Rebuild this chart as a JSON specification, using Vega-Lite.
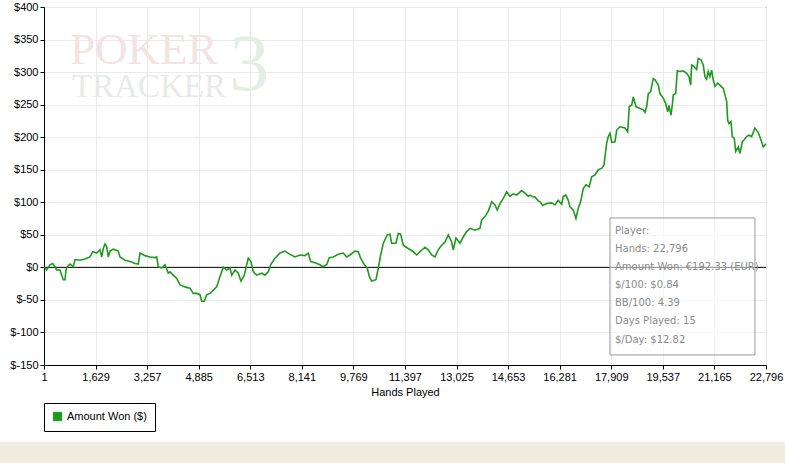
{
  "$schema": "https://vega.github.io/schema/vega-lite/v6.json",
  "autosize": "none",
  "width": 722,
  "height": 358,
  "padding": {"left": 44, "top": 7, "right": 19, "bottom": 98},
  "background": "#ffffff",
  "config": {
    "view": {"stroke": "#000000", "strokeWidth": 1},
    "font": "Liberation Sans",
    "axis": {
      "domainColor": "#000000",
      "tickColor": "#000000",
      "gridColor": "#ebebeb",
      "labelFont": "Liberation Sans",
      "labelFontSize": 11,
      "labelColor": "#000000",
      "labelOverlap": false,
      "labelFlush": false,
      "labelBound": false,
      "tickSize": 4,
      "titleFont": "Liberation Sans",
      "titleFontSize": 11,
      "titleFontWeight": "normal",
      "titleColor": "#000000"
    }
  },
  "datasets": {
    "won": [
      {"hands": 1, "won": 0},
      {"hands": 33, "won": -1},
      {"hands": 86, "won": -4},
      {"hands": 190, "won": 4},
      {"hands": 276, "won": 6},
      {"hands": 348, "won": 1},
      {"hands": 402, "won": -4},
      {"hands": 506, "won": -4},
      {"hands": 560, "won": -12},
      {"hands": 610, "won": -19},
      {"hands": 664, "won": -19},
      {"hands": 696, "won": -4},
      {"hands": 737, "won": 1},
      {"hands": 822, "won": 5},
      {"hands": 926, "won": 1},
      {"hands": 980, "won": 12},
      {"hands": 1138, "won": 11},
      {"hands": 1295, "won": 13},
      {"hands": 1453, "won": 16},
      {"hands": 1538, "won": 24},
      {"hands": 1665, "won": 22},
      {"hands": 1769, "won": 27},
      {"hands": 1823, "won": 16},
      {"hands": 1873, "won": 29},
      {"hands": 1927, "won": 36},
      {"hands": 1980, "won": 32},
      {"hands": 2031, "won": 16},
      {"hands": 2085, "won": 25},
      {"hands": 2189, "won": 28},
      {"hands": 2347, "won": 25},
      {"hands": 2400, "won": 16},
      {"hands": 2558, "won": 11},
      {"hands": 2716, "won": 9},
      {"hands": 2874, "won": 6},
      {"hands": 2978, "won": 5},
      {"hands": 3032, "won": 22},
      {"hands": 3190, "won": 18},
      {"hands": 3347, "won": 16},
      {"hands": 3505, "won": 15},
      {"hands": 3559, "won": 16},
      {"hands": 3609, "won": 1},
      {"hands": 3717, "won": -1},
      {"hands": 3821, "won": 4},
      {"hands": 3925, "won": -9},
      {"hands": 3979, "won": -7},
      {"hands": 4083, "won": -12},
      {"hands": 4190, "won": -17},
      {"hands": 4295, "won": -27},
      {"hands": 4452, "won": -30},
      {"hands": 4610, "won": -32},
      {"hands": 4714, "won": -40},
      {"hands": 4822, "won": -40},
      {"hands": 4926, "won": -42},
      {"hands": 4980, "won": -52},
      {"hands": 5062, "won": -52},
      {"hands": 5137, "won": -42},
      {"hands": 5242, "won": -40},
      {"hands": 5346, "won": -35},
      {"hands": 5453, "won": -30},
      {"hands": 5557, "won": -14},
      {"hands": 5661, "won": 0},
      {"hands": 5769, "won": -4},
      {"hands": 5873, "won": -1},
      {"hands": 5927, "won": -12},
      {"hands": 6031, "won": -4},
      {"hands": 6135, "won": -9},
      {"hands": 6220, "won": -21},
      {"hands": 6325, "won": -12},
      {"hands": 6400, "won": 4},
      {"hands": 6451, "won": 14},
      {"hands": 6536, "won": 9},
      {"hands": 6609, "won": -7},
      {"hands": 6716, "won": -12},
      {"hands": 6874, "won": -9},
      {"hands": 6978, "won": -12},
      {"hands": 7082, "won": -7},
      {"hands": 7168, "won": 5},
      {"hands": 7294, "won": 14},
      {"hands": 7452, "won": 22},
      {"hands": 7609, "won": 25},
      {"hands": 7767, "won": 20},
      {"hands": 7925, "won": 16},
      {"hands": 8083, "won": 19},
      {"hands": 8241, "won": 18},
      {"hands": 8345, "won": 22},
      {"hands": 8421, "won": 9},
      {"hands": 8556, "won": 7},
      {"hands": 8714, "won": 4},
      {"hands": 8800, "won": 1},
      {"hands": 8926, "won": 4},
      {"hands": 9008, "won": 15},
      {"hands": 9134, "won": 16},
      {"hands": 9292, "won": 20},
      {"hands": 9450, "won": 22},
      {"hands": 9557, "won": 16},
      {"hands": 9661, "won": 19},
      {"hands": 9819, "won": 25},
      {"hands": 9923, "won": 24},
      {"hands": 9999, "won": 14},
      {"hands": 10103, "won": 5},
      {"hands": 10208, "won": -1},
      {"hands": 10271, "won": -14},
      {"hands": 10346, "won": -21},
      {"hands": 10482, "won": -19},
      {"hands": 10555, "won": -1},
      {"hands": 10631, "won": 19},
      {"hands": 10713, "won": 37},
      {"hands": 10839, "won": 50},
      {"hands": 10924, "won": 51},
      {"hands": 10978, "won": 37},
      {"hands": 11114, "won": 37},
      {"hands": 11186, "won": 52},
      {"hands": 11262, "won": 51},
      {"hands": 11344, "won": 34},
      {"hands": 11502, "won": 29},
      {"hands": 11660, "won": 24},
      {"hands": 11767, "won": 19},
      {"hands": 11871, "won": 24},
      {"hands": 12029, "won": 31},
      {"hands": 12133, "won": 27},
      {"hands": 12240, "won": 19},
      {"hands": 12345, "won": 16},
      {"hands": 12449, "won": 27},
      {"hands": 12556, "won": 34},
      {"hands": 12661, "won": 39},
      {"hands": 12765, "won": 50},
      {"hands": 12872, "won": 39},
      {"hands": 12923, "won": 27},
      {"hands": 13007, "won": 45},
      {"hands": 13134, "won": 37},
      {"hands": 13238, "won": 47},
      {"hands": 13345, "won": 55},
      {"hands": 13450, "won": 60},
      {"hands": 13607, "won": 57},
      {"hands": 13765, "won": 60},
      {"hands": 13819, "won": 73},
      {"hands": 13923, "won": 78},
      {"hands": 14027, "won": 86},
      {"hands": 14134, "won": 101},
      {"hands": 14239, "won": 96},
      {"hands": 14311, "won": 88},
      {"hands": 14397, "won": 98},
      {"hands": 14501, "won": 106},
      {"hands": 14608, "won": 116},
      {"hands": 14713, "won": 109},
      {"hands": 14817, "won": 113},
      {"hands": 14924, "won": 111},
      {"hands": 15082, "won": 118},
      {"hands": 15187, "won": 114},
      {"hands": 15291, "won": 109},
      {"hands": 15345, "won": 111},
      {"hands": 15449, "won": 108},
      {"hands": 15502, "won": 108},
      {"hands": 15607, "won": 102},
      {"hands": 15660, "won": 101},
      {"hands": 15745, "won": 95},
      {"hands": 15871, "won": 98},
      {"hands": 16029, "won": 99},
      {"hands": 16133, "won": 96},
      {"hands": 16237, "won": 103},
      {"hands": 16344, "won": 97},
      {"hands": 16395, "won": 109},
      {"hands": 16480, "won": 111},
      {"hands": 16553, "won": 103},
      {"hands": 16606, "won": 93},
      {"hands": 16711, "won": 88},
      {"hands": 16796, "won": 75},
      {"hands": 16869, "won": 91},
      {"hands": 16944, "won": 101},
      {"hands": 17027, "won": 121},
      {"hands": 17112, "won": 127},
      {"hands": 17216, "won": 124},
      {"hands": 17292, "won": 139},
      {"hands": 17397, "won": 142},
      {"hands": 17501, "won": 150},
      {"hands": 17608, "won": 152},
      {"hands": 17681, "won": 157},
      {"hands": 17712, "won": 170},
      {"hands": 17766, "won": 191},
      {"hands": 17817, "won": 201},
      {"hands": 17871, "won": 206},
      {"hands": 17924, "won": 192},
      {"hands": 18028, "won": 193},
      {"hands": 18082, "won": 211},
      {"hands": 18186, "won": 216},
      {"hands": 18344, "won": 214},
      {"hands": 18429, "won": 208},
      {"hands": 18479, "won": 247},
      {"hands": 18555, "won": 249},
      {"hands": 18606, "won": 262},
      {"hands": 18691, "won": 247},
      {"hands": 18817, "won": 244},
      {"hands": 18921, "won": 242},
      {"hands": 18975, "won": 238},
      {"hands": 19029, "won": 247},
      {"hands": 19080, "won": 267},
      {"hands": 19156, "won": 270},
      {"hands": 19187, "won": 278},
      {"hands": 19238, "won": 290},
      {"hands": 19292, "won": 288},
      {"hands": 19396, "won": 280},
      {"hands": 19448, "won": 267},
      {"hands": 19552, "won": 260},
      {"hands": 19628, "won": 252},
      {"hands": 19692, "won": 239},
      {"hands": 19733, "won": 249},
      {"hands": 19796, "won": 234},
      {"hands": 19837, "won": 249},
      {"hands": 19869, "won": 265},
      {"hands": 19945, "won": 267},
      {"hands": 19995, "won": 302},
      {"hands": 20080, "won": 301},
      {"hands": 20184, "won": 302},
      {"hands": 20291, "won": 298},
      {"hands": 20364, "won": 293},
      {"hands": 20418, "won": 280},
      {"hands": 20449, "won": 311},
      {"hands": 20531, "won": 308},
      {"hands": 20607, "won": 304},
      {"hands": 20657, "won": 321},
      {"hands": 20743, "won": 319},
      {"hands": 20815, "won": 311},
      {"hands": 20869, "won": 293},
      {"hands": 20922, "won": 289},
      {"hands": 20973, "won": 301},
      {"hands": 21026, "won": 293},
      {"hands": 21080, "won": 303},
      {"hands": 21130, "won": 288},
      {"hands": 21184, "won": 278},
      {"hands": 21269, "won": 283},
      {"hands": 21342, "won": 280},
      {"hands": 21447, "won": 275},
      {"hands": 21500, "won": 265},
      {"hands": 21554, "won": 255},
      {"hands": 21586, "won": 226},
      {"hands": 21627, "won": 221},
      {"hands": 21690, "won": 224},
      {"hands": 21731, "won": 201},
      {"hands": 21795, "won": 198},
      {"hands": 21839, "won": 178},
      {"hands": 21921, "won": 185},
      {"hands": 21975, "won": 175},
      {"hands": 22048, "won": 193},
      {"hands": 22108, "won": 196},
      {"hands": 22184, "won": 201},
      {"hands": 22257, "won": 203},
      {"hands": 22342, "won": 201},
      {"hands": 22446, "won": 214},
      {"hands": 22551, "won": 207},
      {"hands": 22636, "won": 196},
      {"hands": 22709, "won": 185},
      {"hands": 22796, "won": 190}
    ],
    "info": [
      {"line": "Player:", "h": 18028, "v": 56},
      {"line": "Hands: 22,796", "h": 18028, "v": 28.3},
      {"line": "Amount Won: €192.33 (EUR)", "h": 18028, "v": 0.6},
      {"line": "$/100: $0.84", "h": 18028, "v": -27},
      {"line": "BB/100: 4.39", "h": 18028, "v": -54.7},
      {"line": "Days Played: 15", "h": 18028, "v": -82.3},
      {"line": "$/Day: $12.82", "h": 18028, "v": -111.5}
    ],
    "box": [{"h1": 17870, "h2": 22447, "v1": 75.9, "v2": -134.6}],
    "strip": [{"h1": -1400, "h2": 23420, "v1": -268, "v2": -302}],
    "zero": [{"v": 0}],
    "mark": [
      {"t": "POKER", "h": 822, "v": 312},
      {"t": "TRACKER", "h": 885, "v": 261.5},
      {"t": "3", "h": 5850, "v": 272}
    ]
  },
  "layer": [
    {
      "data": {"name": "strip"},
      "mark": {"type": "rect", "color": "#f0ecdf", "clip": false},
      "encoding": {
        "x": {
          "field": "h1",
          "type": "quantitative",
          "scale": {"domain": [1, 22796], "nice": false, "zero": false},
          "axis": {
            "title": "Hands Played",
            "values": [1, 1629, 3257, 4885, 6513, 8141, 9769, 11397, 13025, 14653, 16281, 17909, 19537, 21165, 22796],
            "tickCount": 30,
            "format": ",d",
            "labelPadding": 2,
            "titlePadding": 4,
            "labelOverlap": false,
            "labelFlush": false
          }
        },
        "x2": {"field": "h2"},
        "y": {
          "field": "v1",
          "type": "quantitative",
          "scale": {"domain": [-150, 400], "nice": false, "zero": false},
          "axis": {
            "title": null,
            "values": [-150, -100, -50, 0, 50, 100, 150, 200, 250, 300, 350, 400],
            "tickCount": 30,
            "labelExpr": "'$' + datum.value",
            "labelPadding": 2,
            "labelOverlap": false,
            "labelFlush": false
          }
        },
        "y2": {"field": "v2"}
      }
    },
    {
      "data": {"name": "mark"},
      "transform": [{"filter": "datum.t === '3'"}],
      "mark": {"type": "text", "font": "Liberation Serif", "align": "left", "baseline": "alphabetic", "fontSize": 80, "color": "#e6ede6"},
      "encoding": {
        "x": {"field": "h", "type": "quantitative"},
        "y": {"field": "v", "type": "quantitative"},
        "text": {"field": "t"}
      }
    },
    {
      "data": {"name": "mark"},
      "transform": [{"filter": "datum.t === 'POKER'"}],
      "mark": {"type": "text", "font": "Liberation Serif", "align": "left", "baseline": "alphabetic", "fontSize": 45, "color": "#f3e3e3"},
      "encoding": {
        "x": {"field": "h", "type": "quantitative"},
        "y": {"field": "v", "type": "quantitative"},
        "text": {"field": "t"}
      }
    },
    {
      "data": {"name": "mark"},
      "transform": [{"filter": "datum.t === 'TRACKER'"}],
      "mark": {"type": "text", "font": "Liberation Serif", "align": "left", "baseline": "alphabetic", "fontSize": 33, "color": "#e7ebe7"},
      "encoding": {
        "x": {"field": "h", "type": "quantitative"},
        "y": {"field": "v", "type": "quantitative"},
        "text": {"field": "t"}
      }
    },
    {
      "data": {"name": "zero"},
      "mark": {"type": "rule", "color": "#000000", "strokeWidth": 1},
      "encoding": {"y": {"field": "v", "type": "quantitative"}}
    },
    {
      "data": {"name": "won"},
      "mark": {"type": "line", "strokeWidth": 1.6, "interpolate": "linear"},
      "encoding": {
        "x": {"field": "hands", "type": "quantitative"},
        "y": {"field": "won", "type": "quantitative"},
        "color": {
          "datum": "Amount Won ($)",
          "type": "nominal",
          "scale": {"range": ["#1e9a1e"]},
          "legend": {
            "title": null,
            "orient": "none",
            "legendX": 0,
            "legendY": 396,
            "strokeColor": "#000000",
            "fillColor": "#ffffff",
            "padding": 8,
            "symbolType": "square",
            "symbolSize": 70,
            "symbolFillColor": "#1e9a1e",
            "symbolStrokeColor": "#1a3a1a",
            "symbolStrokeWidth": 1,
            "labelFont": "Liberation Sans",
            "labelFontSize": 11,
            "labelColor": "#000000"
          }
        }
      }
    },
    {
      "data": {"name": "box"},
      "mark": {"type": "rect", "fill": "#ffffff", "fillOpacity": 0.55, "stroke": "#9a9a9a", "strokeWidth": 1},
      "encoding": {
        "x": {"field": "h1", "type": "quantitative"},
        "x2": {"field": "h2"},
        "y": {"field": "v1", "type": "quantitative"},
        "y2": {"field": "v2"}
      }
    },
    {
      "data": {"name": "info"},
      "mark": {"type": "text", "align": "left", "baseline": "middle", "font": "DejaVu Sans", "fontSize": 10, "color": "#8a8a8a"},
      "encoding": {
        "x": {"field": "h", "type": "quantitative"},
        "y": {"field": "v", "type": "quantitative"},
        "text": {"field": "line"}
      }
    }
  ]
}
